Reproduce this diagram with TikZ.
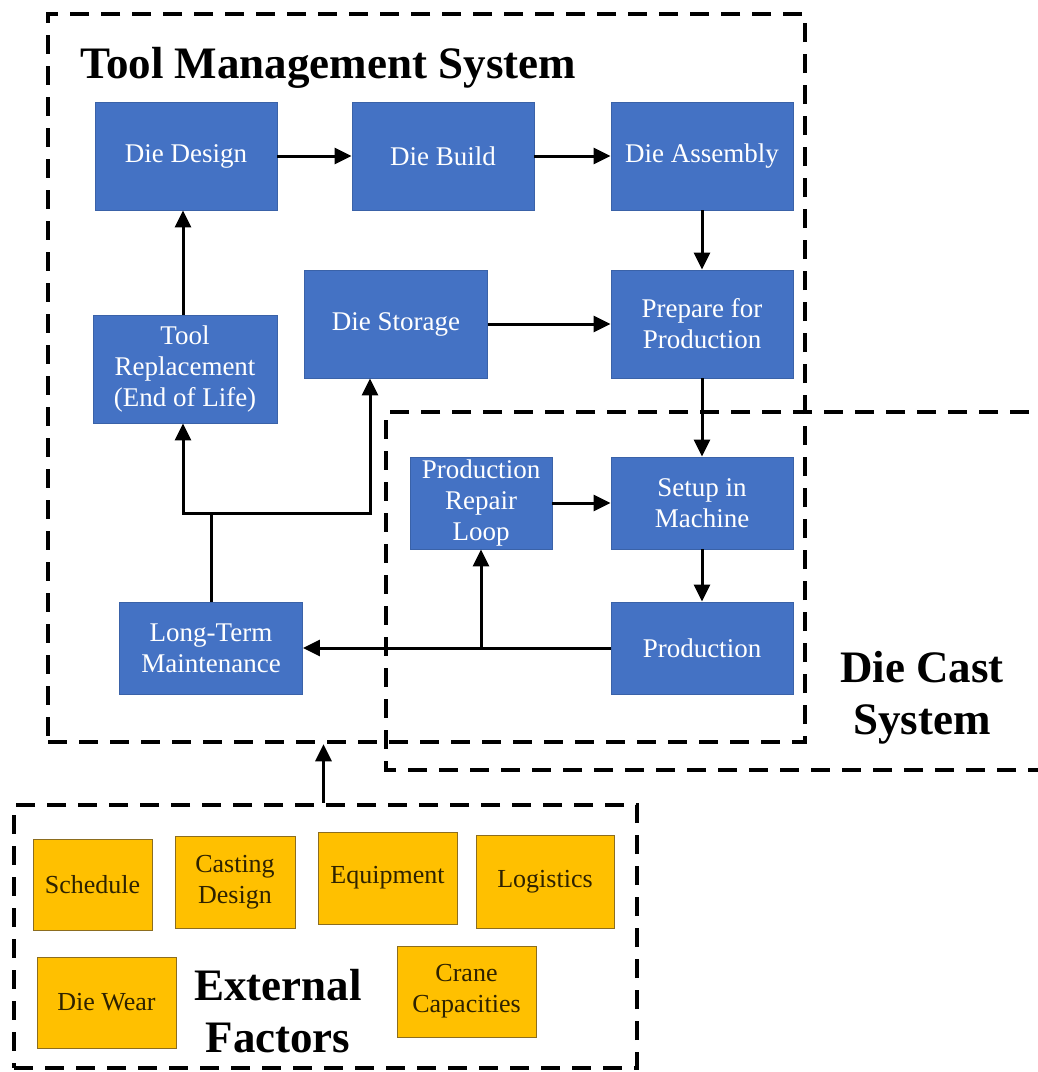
\documentclass[tikz,border=0pt]{standalone}
\usepackage{fontspec}
\setmainfont{Liberation Serif}
\usetikzlibrary{arrows.meta,calc}
\definecolor{procblue}{HTML}{4472C4}
\definecolor{procedge}{HTML}{3A62A8}
\definecolor{factorfill}{HTML}{FFC000}
\definecolor{factoredge}{HTML}{8C6D1F}
\definecolor{factortext}{HTML}{2E2200}
\tikzset{
  proc/.style={rectangle, fill=procblue, draw=procedge, line width=0.8pt,
    minimum width=182pt, minimum height=108pt, align=center, text=white,
    font=\fontsize{27}{31}\selectfont, inner sep=2pt},
  factor/.style={rectangle, fill=factorfill, draw=factoredge, line width=1pt,
    minimum width=139pt, minimum height=92pt, align=center, text=factortext,
    font=\fontsize{26}{31}\selectfont, inner sep=2pt},
  frame/.style={draw=black, line width=4.5pt, dash pattern=on 19pt off 12pt},
  title/.style={font=\fontsize{45}{52}\selectfont\bfseries, align=center, inner sep=0pt},
  arr/.style={draw=black, line width=3pt, -{Triangle[length=17pt,width=16pt]}},
  wire/.style={draw=black, line width=3pt},
}
\begin{document}
\begin{tikzpicture}[x=1pt,y=-1pt]
\useasboundingbox (0,0) rectangle (1038,1072);
\fill[white] (0,0) rectangle (1038,1072);

% system frames
\node[frame, minimum width=757pt, minimum height=728pt, inner sep=0pt] (tms) at (426.5,378) {};
\node[frame, minimum width=623pt, minimum height=263pt, inner sep=0pt] (ext) at (325.5,936.5) {};
\coordinate (dcTR) at (1060,412);
\coordinate (dcTL) at (386,412);
\coordinate (dcBL) at (386,770);
\coordinate (dcBR) at (1060,770);
\draw[frame] (dcTR) -- (dcTL) -- (dcBL) -- (dcBR);

% frame titles
\node[title, anchor=base west] (tmsT) at (80,78) {Tool Management System};
\node[title] (dcT) at (922,698) {Die Cast\\System};
\node[title] (extT) at (278,1011) {External\\Factors};

% tool management processes
\node[proc] (design)   at (186,156) {Die Design};
\node[proc] (build)    at (443,156) {Die Build};
\node[proc] (assembly) at (702,156) {Die Assembly};
\node[proc, minimum width=184pt] (replace) at (185,369) {Tool\\Replacement\\(End of Life)};
\node[proc, minimum width=183pt] (storage) at (396,324) {Die Storage};
\node[proc] (prepare)  at (702,324) {Prepare for\\Production};
\node[proc, minimum width=142pt, minimum height=92pt] (repair) at (481,503) {Production\\Repair\\Loop};
\node[proc, minimum height=92pt] (setup) at (702,503) {Setup in\\Machine};
\node[proc, minimum height=92pt] (prod)  at (702,648) {Production};
\node[proc, minimum width=183pt, minimum height=92pt] (ltm) at (211,648) {Long-Term\\Maintenance};

% external factors
\node[factor, minimum width=119pt, minimum height=91pt] (sched) at (92.5,884.5) {Schedule};
\node[factor, minimum width=120pt] (cdes) at (235,882) {Casting\\Design};
\node[factor] (equip) at (387.5,878) {Equipment};
\node[factor, minimum width=138pt, minimum height=93pt] (logi) at (545,881.5) {Logistics};
\node[factor, minimum height=91pt] (wear) at (106.5,1002.5) {Die Wear};
\node[factor, minimum height=91pt] (crane) at (466.5,991.5) {Crane\\Capacities};

% process flow
\draw[arr] (design) -- (build);
\draw[arr] (build) -- (assembly);
\draw[arr] (assembly) -- (prepare);
\draw[arr] (storage) -- (prepare);
\draw[arr] (prepare) -- (setup);
\draw[arr] (setup) -- (prod);
\draw[arr] (repair) -- (setup);
\draw[arr] (prod) -- (ltm);
\draw[arr] (prod.west -| repair.south) -- (repair.south);
\draw[arr] ($(replace.north)+(-2,0)$) -- ($(design.south)+(-3,0)$);

% maintenance feeds replacement and storage
\coordinate (split) at (211,513);
\draw[wire] (ltm.north) -- (split);
\draw[arr] (split) -| ($(replace.south)+(-2,0)$);
\draw[arr] (split) -| ($(storage.south)+(-26,0)$);

% external factors act on the tool system
\draw[arr] ($(ext.north)+(-2,0)$) -- ($(ext.north |- tms.south)+(-2,0)$);
\end{tikzpicture}
\end{document}
